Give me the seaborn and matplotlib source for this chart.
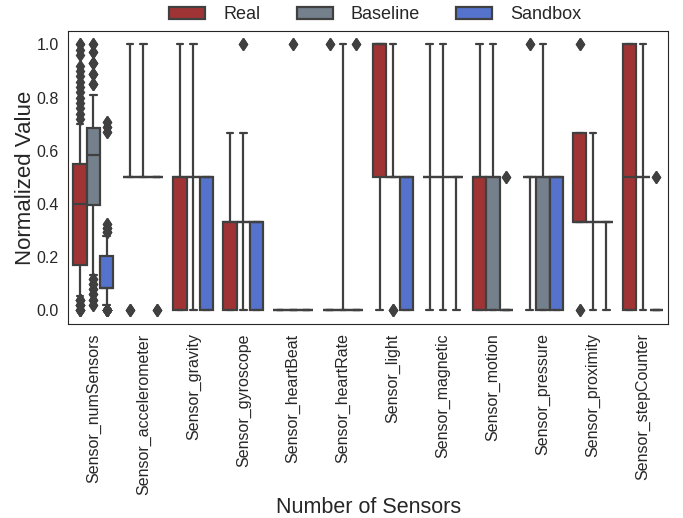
import numpy as np
import pandas as pd
import seaborn as sns
import matplotlib.pyplot as plt

sensors = [
    "Sensor_numSensors", "Sensor_accelerometer", "Sensor_gravity",
    "Sensor_gyroscope", "Sensor_heartBeat", "Sensor_heartRate",
    "Sensor_light", "Sensor_magnetic", "Sensor_motion",
    "Sensor_pressure", "Sensor_proximity", "Sensor_stepCounter",
]
sources = ["Real", "Baseline", "Sandbox"]
palette = ["firebrick", "slategray", "royalblue"]

# Sensor_numSensors: normalized sensor counts (value levels and how often they occur)
num_levels_real = [0.0, 0.02, 0.04, 0.055, 0.10, 0.15, 0.17, 0.25, 0.30, 0.35, 0.40,
                   0.45, 0.50, 0.55, 0.60, 0.65, 0.70, 0.72, 0.74, 0.76, 0.78, 0.80,
                   0.82, 0.84, 0.86, 0.88, 0.90, 0.92, 0.96, 0.98, 1.0]
num_counts_real = [5, 5, 5, 15, 35, 30, 20, 30, 25, 25, 20,
                   35, 35, 30, 30, 20, 20, 1, 1, 1, 1, 1,
                   1, 1, 1, 1, 1, 1, 1, 1, 2]

num_levels_base = [0.02, 0.04, 0.06, 0.08, 0.10, 0.12, 0.135, 0.20, 0.25, 0.30, 0.35,
                   0.395, 0.45, 0.50, 0.55, 0.585, 0.62, 0.65, 0.685, 0.72, 0.76, 0.81,
                   0.85, 0.89, 0.93, 0.97, 1.0]
num_counts_base = [2, 2, 2, 2, 2, 2, 20, 15, 15, 20, 15,
                   20, 25, 30, 25, 20, 40, 40, 20, 25, 25, 20,
                   3, 3, 3, 2, 2]

num_levels_sand = [0.0, 0.02, 0.05, 0.07, 0.083, 0.12, 0.16, 0.205, 0.24, 0.28,
                   0.295, 0.31, 0.325, 0.67, 0.69, 0.71]
num_counts_sand = [15, 20, 30, 30, 110, 40, 40, 30, 35, 36,
                   3, 3, 2, 2, 2, 2]

# binary-ish sensors: levels 0 / 0.5 / 1, counts per source
half_levels = [0.0, 0.5, 1.0]
third_levels = [0.0, 1 / 3, 2 / 3, 1.0]
two_levels = [0.0, 1.0]

real_counts = {
    "Sensor_accelerometer": [3, 87, 10],
    "Sensor_gravity": [30, 60, 10],
    "Sensor_gyroscope": [30, 60, 10, 0],
    "Sensor_heartBeat": [100, 0],
    "Sensor_heartRate": [98, 2],
    "Sensor_light": [10, 30, 60],
    "Sensor_magnetic": [10, 80, 10],
    "Sensor_motion": [30, 60, 10],
    "Sensor_pressure": [10, 88, 2],
    "Sensor_proximity": [2, 58, 38, 2],
    "Sensor_stepCounter": [30, 30, 40],
}
baseline_counts = {
    "Sensor_accelerometer": [0, 90, 10],
    "Sensor_gravity": [10, 80, 10],
    "Sensor_gyroscope": [10, 78, 10, 2],
    "Sensor_heartBeat": [98, 2],
    "Sensor_heartRate": [90, 10],
    "Sensor_light": [3, 87, 10],
    "Sensor_magnetic": [10, 80, 10],
    "Sensor_motion": [30, 60, 10],
    "Sensor_pressure": [30, 60, 10],
    "Sensor_proximity": [10, 80, 10, 0],
    "Sensor_stepCounter": [10, 80, 10],
}
sandbox_counts = {
    "Sensor_accelerometer": [3, 97, 0],
    "Sensor_gravity": [40, 60, 0],
    "Sensor_gyroscope": [40, 60, 0, 0],
    "Sensor_heartBeat": [100, 0],
    "Sensor_heartRate": [98, 2],
    "Sensor_light": [40, 60, 0],
    "Sensor_magnetic": [10, 90, 0],
    "Sensor_motion": [98, 2, 0],
    "Sensor_pressure": [40, 60, 0],
    "Sensor_proximity": [10, 90, 0, 0],
    "Sensor_stepCounter": [98, 2, 0],
}

level_sets = {s: half_levels for s in sensors}
level_sets["Sensor_gyroscope"] = third_levels
level_sets["Sensor_proximity"] = third_levels
level_sets["Sensor_heartBeat"] = two_levels
level_sets["Sensor_heartRate"] = two_levels

rows = []
def add(sensor, source, levels, counts):
    for v in np.repeat(levels, counts):
        rows.append((sensor, source, v))

add(sensors[0], "Real", num_levels_real, num_counts_real)
add(sensors[0], "Baseline", num_levels_base, num_counts_base)
add(sensors[0], "Sandbox", num_levels_sand, num_counts_sand)
for s in sensors[1:]:
    add(s, "Real", level_sets[s], real_counts[s])
    add(s, "Baseline", level_sets[s], baseline_counts[s])
    add(s, "Sandbox", level_sets[s], sandbox_counts[s])

df = pd.DataFrame(rows, columns=["Sensor", "Source", "Value"])

sns.set_style("white")
plt.rcParams["font.family"] = ["Liberation Sans", "DejaVu Sans"]
fig, ax = plt.subplots(figsize=(6.83, 5.18), dpi=100)
fig.subplots_adjust(left=0.1, right=0.978, bottom=0.375, top=0.94)

sns.boxplot(data=df, x="Sensor", y="Value", hue="Source", order=sensors,
            hue_order=sources, palette=palette, whis=(5, 95), linewidth=1.6,
            linecolor=".25", ax=ax,
            flierprops=dict(marker="d", markerfacecolor=".25",
                            markeredgecolor=".25", markersize=6))

ax.set_xlabel("Number of Sensors", fontsize=15.5, labelpad=2)
ax.set_ylabel("Normalized Value", fontsize=16, labelpad=0)
ax.tick_params(axis="x", labelrotation=90, labelsize=11.5)
ax.tick_params(axis="y", labelsize=11.5)
sns.move_legend(ax, "center", bbox_to_anchor=(0.512, 1.055), ncol=3,
                frameon=False, title=None, fontsize=13, columnspacing=2.0,
                handletextpad=1.0)

plt.savefig("out.png", dpi=100)
